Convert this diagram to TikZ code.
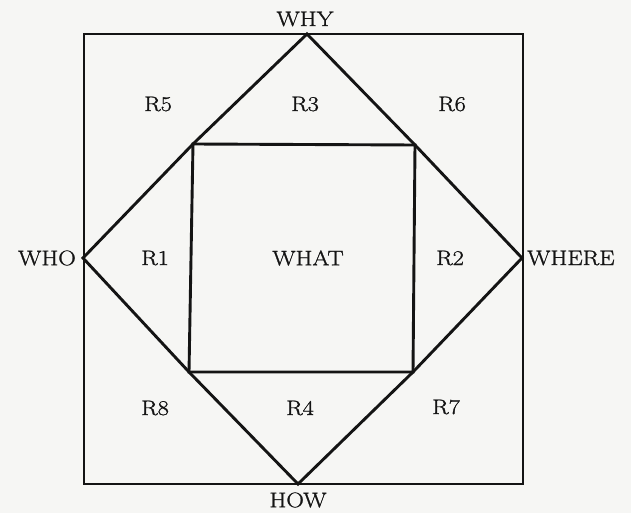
\documentclass[tikz,border=0pt]{standalone}
\usepackage{fontspec}
\setmainfont{Latin Modern Roman}[FakeStretch=1.16, FakeBold=1.2]
\definecolor{paper}{RGB}{246,246,244}
\definecolor{ink}{RGB}{20,20,20}
\begin{document}
\begin{tikzpicture}[x=1pt,y=-1pt,
  edge/.style={line width=2.9pt, draw=ink, line join=miter},
  lbl/.style={font=\fontsize{21}{25}\selectfont, text=ink, inner sep=0pt}]
\fill[paper] (0,0) rectangle (631,513);
\useasboundingbox (0,0) rectangle (631,513);
% outer frame corners
\coordinate (oTL) at (84,34);
\coordinate (oBR) at (523,484);
% diamond vertices
\coordinate (vWhy) at (307,34);
\coordinate (vWhere) at (522,258);
\coordinate (vHow) at (298,484);
\coordinate (vWho) at (83,258);
% inner square corners
\coordinate (iTL) at (193,144);
\coordinate (iTR) at (415,145);
\coordinate (iBR) at (413,372);
\coordinate (iBL) at (189,372);
% shapes
\draw[edge] (oTL) rectangle (oBR);
\draw[edge] (vWhy) -- (iTL) -- (vWho) -- (iBL) -- (vHow) -- (iBR) -- (vWhere) -- (iTR) -- cycle;
\draw[edge] (iTL) -- (iTR) -- (iBR) -- (iBL) -- cycle;
% labels
\node[lbl] (why) at (305,19) {WHY};
\node[lbl, anchor=east] (who) at (76,258) {WHO};
\node[lbl, anchor=west] (where) at (527,258) {WHERE};
\node[lbl] (how) at (298,500) {HOW};
\node[lbl] (what) at (308,258) {WHAT};
\node[lbl] (r1) at (155,258) {R1};
\node[lbl] (r2) at (450,258) {R2};
\node[lbl] (r3) at (305,104) {R3};
\node[lbl] (r4) at (300,408) {R4};
\node[lbl] (r5) at (158,104) {R5};
\node[lbl] (r6) at (452,104) {R6};
\node[lbl] (r7) at (446,407) {R7};
\node[lbl] (r8) at (155,408) {R8};
\end{tikzpicture}
\end{document}
